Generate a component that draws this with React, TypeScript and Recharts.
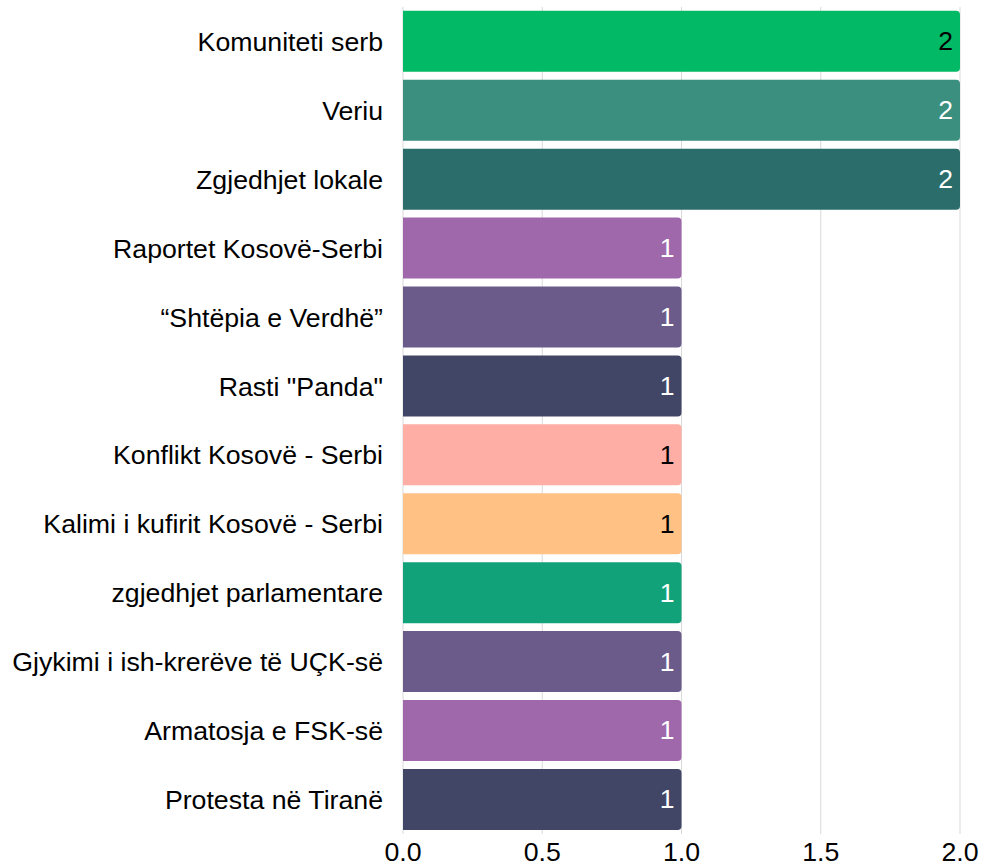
import { Bar, BarChart, CartesianGrid, Cell, LabelList, XAxis, YAxis } from "recharts";

const topics = [
  "Komuniteti serb",
  "Veriu",
  "Zgjedhjet lokale",
  "Raportet Kosovë-Serbi",
  "“Shtëpia e Verdhë”",
  'Rasti "Panda"',
  "Konflikt Kosovë - Serbi",
  "Kalimi i kufirit Kosovë - Serbi",
  "zgjedhjet parlamentare",
  "Gjykimi i ish-krerëve të UÇK-së",
  "Armatosja e FSK-së",
  "Protesta në Tiranë",
];

const counts = [2, 2, 2, 1, 1, 1, 1, 1, 1, 1, 1, 1];

const barColors = [
  "#02b966",
  "#3a8f7f",
  "#2b6d6b",
  "#9e68ab",
  "#6b5b8a",
  "#424666",
  "#ffaea5",
  "#ffc184",
  "#12a27a",
  "#6b5b8a",
  "#9e68ab",
  "#424666",
];

const labelColors = [
  "#000000",
  "#ffffff",
  "#ffffff",
  "#ffffff",
  "#ffffff",
  "#ffffff",
  "#000000",
  "#000000",
  "#ffffff",
  "#ffffff",
  "#ffffff",
  "#ffffff",
];

const xTicks = [0, 0.5, 1, 1.5, 2];

const data = topics.map((topic, i) => ({ topic, count: counts[i] }));

const FONT = "'Liberation Sans', Arial, sans-serif";

function ValueLabel(props: any) {
  const { x, y, width, height, value, index } = props;
  return (
    <text
      x={x + width - 7}
      y={y + height / 2}
      textAnchor="end"
      dominantBaseline="central"
      fill={labelColors[index]}
      fontSize={26.5}
      fontFamily={FONT}
    >
      {value}
    </text>
  );
}

export default function App() {
  return (
    <div style={{ position: "absolute", left: 0, top: 0, fontFamily: FONT }}>
      <BarChart
        width={981}
        height={868}
        data={data}
        layout="vertical"
        margin={{ top: 7, right: 21, left: 0, bottom: 0 }}
        barCategoryGap={3.8}
      >
        <CartesianGrid horizontal={false} stroke="#d9d9d9" />
        <XAxis
          type="number"
          domain={[0, 2]}
          ticks={xTicks}
          tickFormatter={(v) => v.toFixed(1)}
          axisLine={false}
          tickLine={false}
          tickSize={4}
          tickMargin={4}
          height={34}
          interval={0}
          tick={{ fill: "#000", fontSize: 26.7, fontFamily: FONT }}
        />
        <YAxis
          type="category"
          dataKey="topic"
          width={403}
          axisLine={false}
          tickLine={false}
          tickSize={12}
          tickMargin={8}
          interval={0}
          tick={{ fill: "#000", fontSize: 26.7, fontFamily: FONT }}
        />
        <Bar dataKey="count" radius={[0, 4, 4, 0]} isAnimationActive={false}>
          {data.map((d, i) => (
            <Cell key={d.topic} fill={barColors[i]} />
          ))}
          <LabelList dataKey="count" content={ValueLabel} />
        </Bar>
      </BarChart>
    </div>
  );
}
